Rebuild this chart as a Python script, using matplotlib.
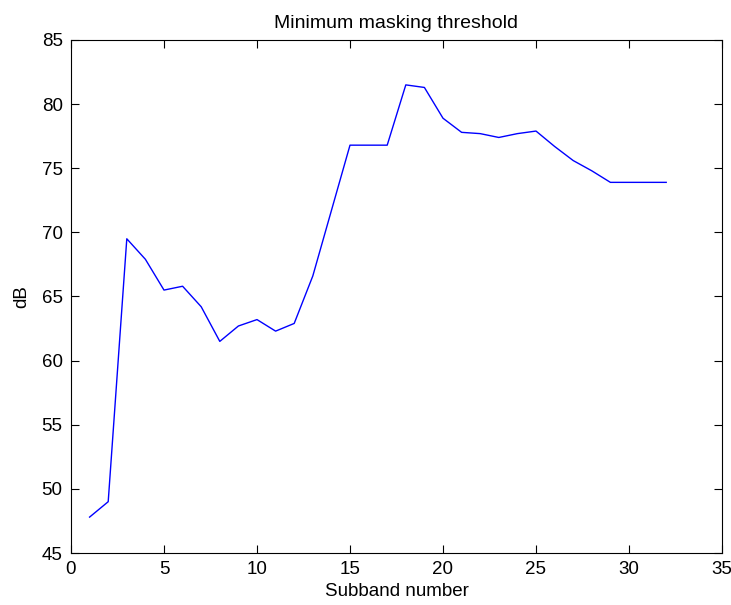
import matplotlib
matplotlib.use("Agg")
import matplotlib.pyplot as plt

# Minimum masking threshold per subband (dB)
subbands = list(range(1, 33))
threshold_db = [47.8, 49.0, 69.5, 67.9, 65.5, 65.8, 64.2, 61.5, 62.7, 63.2,
                62.3, 62.9, 66.6, 71.7, 76.8, 76.8, 76.8, 81.5, 81.3, 78.9,
                77.8, 77.7, 77.4, 77.7, 77.9, 76.7, 75.6, 74.8, 73.9, 73.9,
                73.9, 73.9]

xticks = [0, 5, 10, 15, 20, 25, 30, 35]
yticks = [45, 50, 55, 60, 65, 70, 75, 80, 85]

plt.rcParams['font.family'] = ['Liberation Sans', 'DejaVu Sans']

fig = plt.figure(figsize=(7.31, 6.05), dpi=100)
ax = fig.add_axes([71 / 731, 1 - 553 / 605, 651 / 731, 513 / 605])

ax.plot(subbands, threshold_db, color=(0, 0, 1), linewidth=1.0)

ax.set_xlim(0, 35)
ax.set_ylim(45, 85)
ax.set_xticks(xticks)
ax.set_yticks(yticks)
ax.tick_params(direction='in', top=True, right=True, length=6, width=0.8,
               labelsize=13.5, pad=6)
for s in ax.spines.values():
    s.set_linewidth(0.8)

ax.set_title('Minimum masking threshold', fontsize=14, pad=9)
ax.set_xlabel('Subband number', fontsize=13.5, labelpad=3)
ax.set_ylabel('dB', fontsize=13.5, labelpad=8)

fig.savefig('out.png', dpi=100)
